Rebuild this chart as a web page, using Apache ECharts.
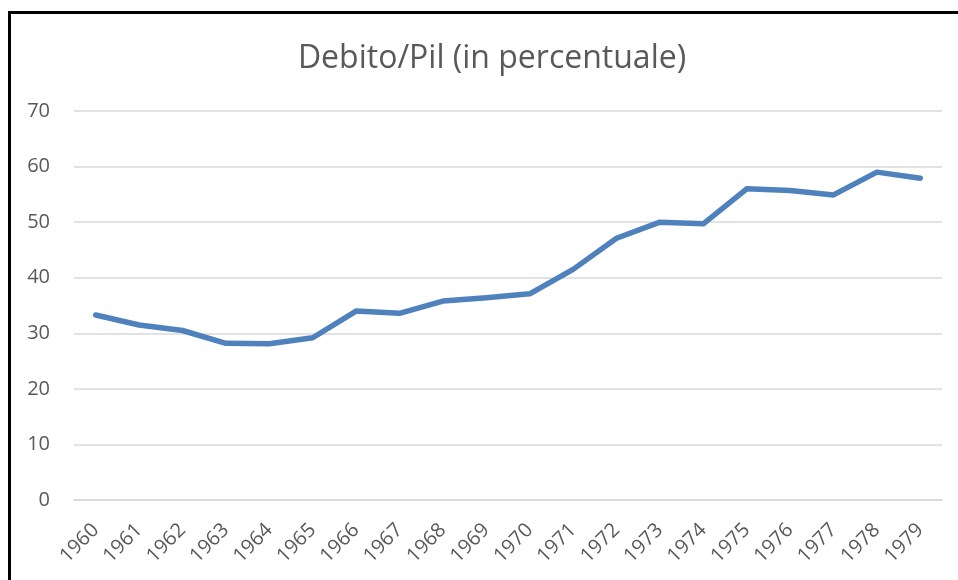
<!DOCTYPE html>
<html>
<head>
<meta charset="utf-8">
<script src="https://cdn.jsdelivr.net/npm/echarts@6/dist/echarts.min.js"></script>
<style>
html,body{margin:0;padding:0;background:#fff;}
#chart{width:958px;height:580px;}
</style>
</head>
<body>
<div id="chart"></div>
<script>
const years = ['1960','1961','1962','1963','1964','1965','1966','1967','1968','1969','1970','1971','1972','1973','1974','1975','1976','1977','1978','1979'];
const debtToGdp = [33.3, 31.5, 30.5, 28.2, 28.1, 29.2, 34.0, 33.6, 35.8, 36.4, 37.1, 41.5, 47.1, 50.0, 49.7, 56.0, 55.7, 54.9, 59.0, 57.9];
const yTicks = {min: 0, max: 70, interval: 10};
const titleText = 'Debito/Pil (in percentuale)';

const chart = echarts.init(document.getElementById('chart'), null, {renderer: 'canvas'});
chart.setOption({
  animation: false,
  backgroundColor: '#ffffff',
  title: {
    text: titleText,
    left: 487,
    top: 38,
    textAlign: 'center',
    textStyle: {fontFamily: 'Open Sans', fontSize: 32, fontWeight: 'normal', color: '#595959'}
  },
  graphic: [{
    type: 'rect',
    shape: {x: 9.5, y: 12.5, width: 1000, height: 700},
    style: {fill: null, stroke: '#000000', lineWidth: 3},
    silent: true
  }],
  grid: {left: 74, right: 16, top: 111, bottom: 80, containLabel: false},
  xAxis: {
    type: 'category',
    data: years,
    boundaryGap: true,
    axisLine: {show: true, lineStyle: {color: '#d9d9d9', width: 1.5}},
    axisTick: {show: false},
    axisLabel: {rotate: 45, margin: 27, fontFamily: 'Open Sans', fontSize: 20, color: '#595959', interval: 0}
  },
  yAxis: {
    type: 'value',
    min: yTicks.min, max: yTicks.max, interval: yTicks.interval,
    axisLine: {show: false},
    axisTick: {show: false},
    splitLine: {show: true, lineStyle: {color: '#d9d9d9', width: 1.5}},
    axisLabel: {margin: 24, fontFamily: 'Open Sans', fontSize: 20, color: '#595959'}
  },
  series: [{
    type: 'line',
    data: debtToGdp,
    symbol: 'none',
    lineStyle: {color: '#4f81bd', width: 5.5, cap: 'round', join: 'round'}
  }]
});
</script>
</body>
</html>
